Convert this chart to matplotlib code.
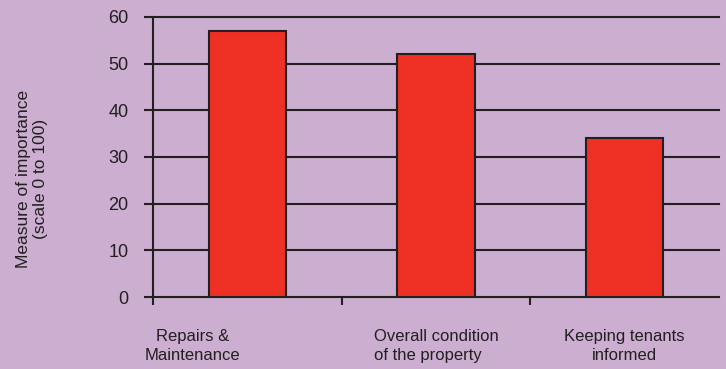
import matplotlib
matplotlib.use("Agg")
import matplotlib.pyplot as plt

categories = ["Repairs &\nMaintenance", "Overall condition\nof the property", "Keeping tenants\ninformed"]
values = [57, 52, 34]
yticks = [0, 10, 20, 30, 40, 50, 60]

# label anchor offsets (in category units) and alignment
label_dx = [-0.289, -0.329, 0.0]
label_ha = ["center", "left", "center"]

bg = "#CBAED0"
bar_color = "#EE3124"
ink = "#231F20"

plt.rcParams["font.family"] = ["Liberation Sans", "DejaVu Sans"]

fig = plt.figure(figsize=(7.26, 3.69), dpi=100, facecolor=bg)
W, H = 726, 369
ax = fig.add_axes([153 / W, (H - 297) / H, (719 - 153) / W, (297 - 17) / H])
ax.set_facecolor(bg)

x = list(range(len(categories)))
ax.bar(x, values, width=0.41, color=bar_color, edgecolor=ink, linewidth=1.5, zorder=3)

for v in yticks:
    ax.axhline(v, color=ink, linewidth=1.5, zorder=1, clip_on=False)

ax.set_xlim(-0.5, len(categories) - 0.5)
ax.set_ylim(0, 60)

for s in ["top", "right", "bottom"]:
    ax.spines[s].set_visible(False)
ax.spines["left"].set_color(ink)
ax.spines["left"].set_linewidth(1.5)
ax.spines["left"].set_zorder(4)

ax.set_yticks(yticks)
ax.set_yticklabels([str(v) for v in yticks], fontsize=13, color=ink)
ax.tick_params(axis="y", length=6.5, width=1.5, color=ink, pad=11)

ax.set_xticks([i - 0.5 for i in x])
ax.set_xticklabels([])
ax.tick_params(axis="x", length=6, width=1.5, color=ink)

for i, lab in enumerate(categories):
    ax.text(i + label_dx[i], -0.115, lab, transform=ax.get_xaxis_transform(),
            ha=label_ha[i], va="top", fontsize=12, color=ink, linespacing=1.3)

fig.text(32 / W, 1 - 179 / H, "Measure of importance\n(scale 0 to 100)", rotation=90,
         ha="center", va="center", fontsize=12.5, color=ink, linespacing=1.2)

fig.savefig("out.png", dpi=100, facecolor=bg)
